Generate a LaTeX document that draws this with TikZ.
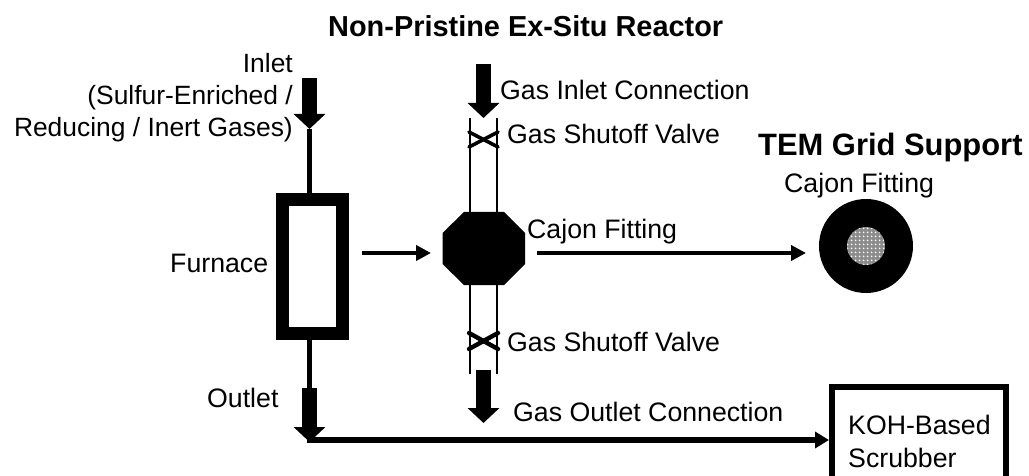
\documentclass[tikz,border=0pt]{standalone}
\usepackage{fontspec}
\setmainfont{Liberation Sans}
\usetikzlibrary{arrows.meta,patterns.meta}
\tikzset{
  lbl/.style={font=\fontsize{26.7}{32}\selectfont,inner sep=0pt,anchor=base west},
  ttl/.style={font=\fontsize{28.9}{34}\selectfont\bfseries,inner sep=0pt,anchor=base west},
  ttlb/.style={font=\fontsize{30.9}{36}\selectfont\bfseries,inner sep=0pt,anchor=base west},
  block/.style={line width=15pt,-{Triangle[width=31pt,length=15pt]}},
  thin arrow/.style={line width=4.6pt,-{Triangle[width=15pt,length=15pt]}},
  pipe/.style={line width=5pt},
  tube/.style={line width=2.4pt},
  valve/.style={line width=3.6pt,line cap=round},
  valvelow/.style={line width=4.4pt,line cap=round},
}
\begin{document}
\begin{tikzpicture}[x=1pt,y=-1pt]
\useasboundingbox (0,0) rectangle (1029,476);
% nodes
\node[draw,line width=13pt,minimum width=60pt,minimum height=134pt,inner sep=0pt] (furnace) at (312.5,266.5) {};
\coordinate (octagon) at (483.7,248.5);
\fill (464,212) -- (504,212) -- (525,233) -- (525,264) -- (504,285) -- (464,285) -- (442.5,264) -- (442.5,233) -- cycle;
\node[circle,fill=black,minimum size=94pt,inner sep=0pt] (ring) at (866,246) {};
\node[circle,preaction={fill=black!45},pattern={Dots[distance=4pt,radius=1.1pt]},pattern color=white,minimum size=38pt,inner sep=0pt] (core) at (866,246) {};
\node[draw,line width=6pt,minimum width=174pt,minimum height=130pt,inner sep=0pt,anchor=north west] (scrubber) at (829,384) {};
% coordinates
\coordinate (inA) at (309.5,78); \coordinate (inB) at (309.5,129);
\coordinate (outA) at (309.5,388); \coordinate (outB) at (309.5,442);
\coordinate (elbow) at (307,440);
\coordinate (gasA) at (483.5,64); \coordinate (gasB) at (483.5,118);
\coordinate (goA) at (483.5,370); \coordinate (goB) at (483.5,423);
\coordinate (fa) at (362,253); \coordinate (fb) at (431,253);
\coordinate (ca) at (537,253); \coordinate (cb) at (806,253);
\coordinate (t1a) at (470,118); \coordinate (t1b) at (470,213);
\coordinate (t2a) at (497,118); \coordinate (t2b) at (497,213);
\coordinate (t3a) at (470,284); \coordinate (t3b) at (470,374);
\coordinate (t4a) at (497,284); \coordinate (t4b) at (497,374);
\coordinate (v1) at (469,132); \coordinate (v2) at (498,147);
\coordinate (v3) at (469,147); \coordinate (v4) at (498,132);
\coordinate (v5) at (469,333); \coordinate (v6) at (498,349);
\coordinate (v7) at (469,349); \coordinate (v8) at (498,333);
% connectors
\draw[pipe] (inB) -- (furnace.north -| inB);
\draw[pipe] (furnace.south -| outA) -- (outA);
\draw[block] (inA) -- (inB);
\draw[block] (outA) -- (outB);
\draw[block] (gasA) -- (gasB);
\draw[block] (goA) -- (goB);
\draw[line width=6pt,-{Triangle[width=16pt,length=14pt]}] (elbow) -- (scrubber.west |- elbow);
\draw[thin arrow] (fa) -- (fb);
\draw[thin arrow] (ca) -- (cb);
\draw[tube] (t1a) -- (t1b);
\draw[tube] (t2a) -- (t2b);
\draw[tube] (t3a) -- (t3b);
\draw[tube] (t4a) -- (t4b);
\draw[valve] (v1) -- (v2);
\draw[valve] (v3) -- (v4);
\draw[valvelow] (v5) -- (v6);
\draw[valvelow] (v7) -- (v8);
% labels
\node[ttl] (title) at (328,37) {Non-Pristine Ex-Situ Reactor};
\node[ttlb] (tem) at (758,156) {TEM Grid Support};
\node[lbl,font=\fontsize{26.4}{32}\selectfont,anchor=base east,align=right] (inlet) at (293,137) {Inlet\\(Sulfur-Enriched /\\Reducing / Inert Gases)};
\node[lbl] (gic) at (500,100) {Gas Inlet Connection};
\node[lbl] (gsv1) at (507,144) {Gas Shutoff Valve};
\node[lbl] (gsv2) at (507,351) {Gas Shutoff Valve};
\node[lbl] (caj1) at (527,238) {Cajon Fitting};
\node[lbl] (caj2) at (784,193) {Cajon Fitting};
\node[lbl] (fur) at (170,272) {Furnace};
\node[lbl] (outl) at (207,407) {Outlet};
\node[lbl] (goc) at (513,421) {Gas Outlet Connection};
\node[lbl] (koh) at (848,434) {KOH-Based};
\node[lbl] (scr) at (848,467) {Scrubber};
\end{tikzpicture}
\end{document}
